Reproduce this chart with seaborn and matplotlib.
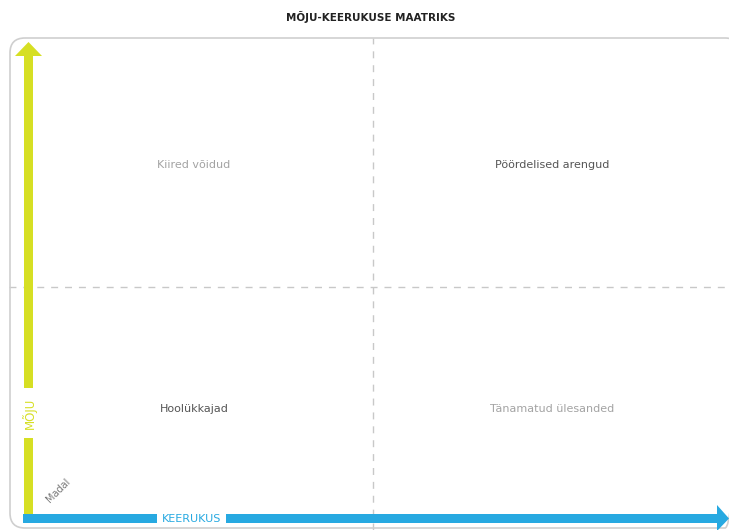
import matplotlib.pyplot as plt
import seaborn as sns
from matplotlib.patches import FancyBboxPatch, Rectangle, Polygon

title = "MÕJU-KEERUKUSE MAATRIKS"
quadrant_labels = ["Kiired võidud", "Pöördelised arengud", "Hoolükkajad", "Tänamatud ülesanded"]
quadrant_complexity = [0, 1, 0, 1]   # 0 = madal, 1 = kõrge
quadrant_impact = [1, 1, 0, 0]
quadrant_colors = ["#a3a3a3", "#555555", "#555555", "#a3a3a3"]
x_axis_label = "KEERUKUS"
y_axis_label = "MÕJU"
origin_label = "Madal"

YELLOW = "#d6df23"
BLUE = "#27a9e1"

sns.set_theme(style="white")
plt.rcParams['font.family'] = ['DejaVu Sans']

W, H = 729, 530
fig = plt.figure(figsize=(W / 100, H / 100), dpi=100)

# quadrant grid (data units 0..2)
ax_q = fig.add_axes([9 / W, 0, 728 / W, 492 / H])
ax_q.set_xlim(1 - 364 / 358, 1 + 364 / 358)
ax_q.set_ylim((531 - 530) / 244, (531 - 38) / 244)
ax_q.axis('off')
ax_q.patch.set_alpha(0)
ax_q.axvline(1, color="#c8c8c8", lw=1.0, ls=(0, (5, 5)), zorder=1)
ax_q.axhline(1, color="#c8c8c8", lw=1.0, ls=(0, (5, 5)), zorder=1)
for lab, cx, cy, col in zip(quadrant_labels, quadrant_complexity, quadrant_impact, quadrant_colors):
    ax_q.text(cx + 0.5, cy + 0.5, lab, ha='center', va='center', fontsize=8, color=col)

# frame + arrows in pixel units
ax = fig.add_axes([0, 0, 1, 1])
ax.set_xlim(0, W)
ax.set_ylim(H, 0)
ax.axis('off')
ax.patch.set_alpha(0)

ax.add_patch(FancyBboxPatch((10, 38), 730, 490, boxstyle="round,pad=0,rounding_size=15",
                            fc="none", ec="#cfcfcf", lw=1.2, zorder=0))

# vertical (impact) arrow
ax.add_patch(Rectangle((24, 56), 9, 332, fc=YELLOW, ec="none", zorder=3))
ax.add_patch(Rectangle((24, 438), 9, 77, fc=YELLOW, ec="none", zorder=3))
ax.add_patch(Polygon([(15, 56), (42, 56), (28.5, 42)], fc=YELLOW, ec="none", zorder=3))
ax.text(29, 413, y_axis_label, rotation=90, ha='center', va='center', fontsize=8.5,
        color=YELLOW, zorder=4)

# horizontal (complexity) arrow
ax.add_patch(Rectangle((23, 514), 134, 9, fc=BLUE, ec="none", zorder=3))
ax.add_patch(Rectangle((226, 514), 491, 9, fc=BLUE, ec="none", zorder=3))
ax.add_patch(Polygon([(717, 505), (717, 531), (729, 518.5)], fc=BLUE, ec="none", zorder=3))
ax.text(192, 518.5, x_axis_label, ha='center', va='center', fontsize=8,
        color=BLUE, zorder=4)

ax.text(58, 490, origin_label, rotation=45, ha='center', va='center', fontsize=7,
        color="#777777")

fig.text(371 / W, 1 - 17 / H, title, ha='center', va='center', fontsize=7.5,
         color="#222222", fontweight='semibold')

fig.savefig("out.png", dpi=100)
